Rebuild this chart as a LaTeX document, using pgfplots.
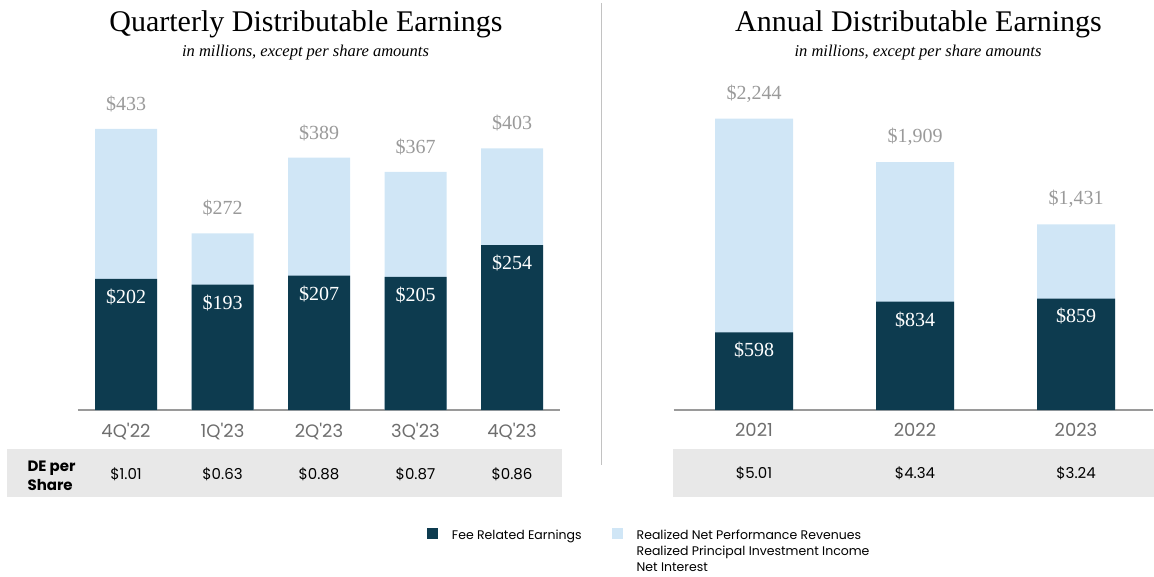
\documentclass[border=0pt]{standalone}
\usepackage{fontspec}
\setmainfont{Liberation Serif}
\newfontfamily\pop{Poppins}
\usepackage{pgfplots}
\usepackage{pgfplotstable}
\pgfplotsset{compat=1.18}

\definecolor{fre}{HTML}{0D3B4F}
\definecolor{oth}{HTML}{D0E6F6}
\definecolor{band}{HTML}{E8E8E8}
\definecolor{lblgrey}{HTML}{9A9A9A}
\definecolor{catgrey}{HTML}{6E6E6E}

% quarterly, $ millions (total = FRE + other)
\pgfplotstableread{
x fre total
0 202 433
1 193 272
2 207 389
3 205 367
4 254 403
}\quarterly

% annual, $ millions
\pgfplotstableread{
x fre total
0 598 2244
1 834 1909
2 859 1431
}\annual

\pgfplotsset{
  de panel/.style={
    scale only axis, anchor=south west, ybar, bar shift=0pt, ymin=0, clip=false,
    axis x line=bottom, axis y line=none,
    axis line style={-, draw=lblgrey, line width=1.5pt},
    xtick=data, major tick length=0pt,
    xticklabel style={font=\pop\fontsize{18}{42}\selectfont, text=catgrey,
      align=center, yshift=-10pt},
    /pgf/number format/assume math mode=true,
  },
  fre bars/.style={fill=fre, draw=none, forget plot,
    nodes near coords={\$\pgfmathprintnumber{\pgfplotspointmeta}},
    every node near coord/.append style={anchor=center, yshift=-18pt, text=white,
      font=\fontsize{20}{24}\selectfont}},
  oth bars/.style={fill=oth, draw=none, forget plot,
    nodes near coords={\$\pgfmathprintnumber{\pgfplotspointmeta}},
    every node near coord/.append style={anchor=center, yshift=25pt, text=lblgrey,
      font=\fontsize{20}{24}\selectfont}},
}

\newcommand{\de}[1]{{\color{black}\fontsize{15}{42}\selectfont\$#1}}

\begin{document}
\begin{tikzpicture}
\useasboundingbox (0,0) rectangle (1154pt,576pt);

% grey bands for DE per share
\fill[band] (7pt,79pt) rectangle (562pt,127pt);
\fill[band] (673pt,79pt) rectangle (1154pt,127pt);

% separator
\draw[lblgrey!60, line width=1.5pt] (601.5pt,573pt) -- (601.5pt,111pt);

% titles
\node[anchor=base, font=\fontsize{30}{34}\selectfont] at (306pt,544pt) {Quarterly Distributable Earnings};
\node[anchor=base, font=\itshape\fontsize{16.5}{20}\selectfont] at (305.5pt,519pt) {in millions, except per share amounts};
\node[anchor=base, font=\fontsize{30}{34}\selectfont] at (918.5pt,544pt) {Annual Distributable Earnings};
\node[anchor=base, font=\itshape\fontsize{16.5}{20}\selectfont] at (918pt,519pt) {in millions, except per share amounts};

\node[anchor=west, align=left, font=\pop\bfseries\fontsize{15}{19}\selectfont] at (24pt,100.5pt) {DE per\\Share};

\begin{axis}[de panel,
  at={(77.75pt,166pt)}, width=482.5pt, height=324.5pt,
  xmin=-0.5, xmax=4.5, ymax=500, bar width=62pt,
  xticklabels={{4Q'22\\\de{1.01}},{1Q'23\\\de{0.63}},{2Q'23\\\de{0.88}},{3Q'23\\\de{0.87}},{4Q'23\\\de{0.86}}},
  legend columns=2,
  legend style={at={(0.7238,-0.3636)}, anchor=north west, draw=none, fill=none,
    inner sep=0pt, outer sep=0pt, row sep=0pt,
    font=\pop\fontsize{12.5}{16}\selectfont,
    nodes={inner sep=1pt, text height=10pt, text depth=4pt},
    /tikz/every odd column/.append style={column sep=13pt},
    /tikz/every even column/.append style={column sep=29pt}},
  legend cell align=left,
  legend image code/.code={\fill[#1] (0pt,-2pt) rectangle (11pt,9pt);},
]
\addplot[oth bars] table[x=x, y=total] {\quarterly};
\addplot[fre bars] table[x=x, y=fre] {\quarterly};
\addlegendimage{fill=fre, draw=none}
\addlegendimage{fill=oth, draw=none}
\addlegendimage{empty legend}
\addlegendimage{empty legend}
\addlegendimage{empty legend}
\addlegendimage{empty legend}
\legend{Fee Related Earnings, Realized Net Performance Revenues, ~, Realized Principal Investment Income, ~, Net Interest}
\end{axis}

\begin{axis}[de panel,
  at={(673.5pt,166pt)}, width=479.8pt, height=324.5pt,
  xmin=-0.5, xmax=2.48, ymax=2500, bar width=78pt,
  xticklabels={{2021\\\de{5.01}},{2022\\\de{4.34}},{2023\\\de{3.24}}},
]
\addplot[oth bars] table[x=x, y=total] {\annual};
\addplot[fre bars] table[x=x, y=fre] {\annual};
\end{axis}
\end{tikzpicture}
\end{document}
